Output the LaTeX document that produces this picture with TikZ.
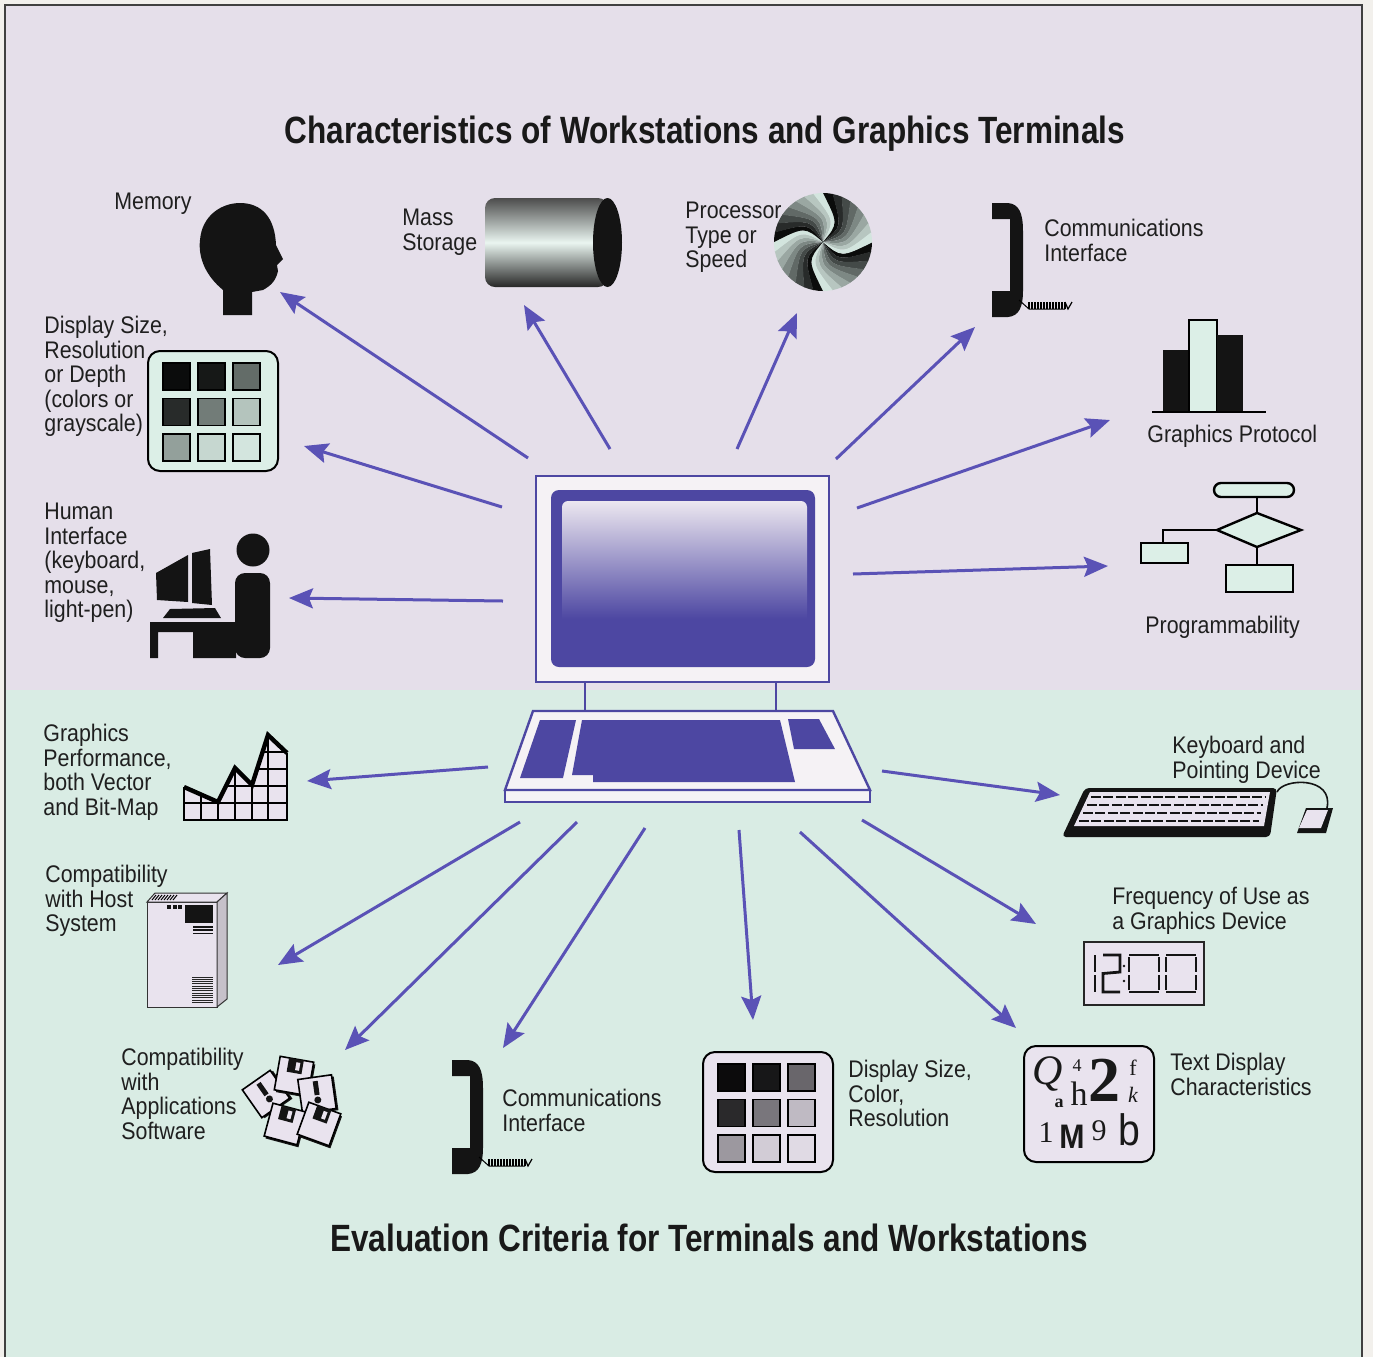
\documentclass[tikz,border=0pt]{standalone}
\usepackage{fontspec}
\setmainfont{Liberation Sans}[FakeStretch=0.89]
\newfontfamily\headfont{Liberation Sans}[FakeStretch=0.83]
\newfontfamily\serifglyphs{Liberation Serif}
\usetikzlibrary{arrows.meta}

\definecolor{paper}{HTML}{F2F0EC}
\definecolor{lilac}{HTML}{E5DFEA}
\definecolor{mint}{HTML}{D9ECE4}
\definecolor{iconmint}{HTML}{DCEFE7}
\definecolor{iconlilac}{HTML}{E9E3EE}
\definecolor{arrowblue}{HTML}{5A52B6}
\definecolor{crtblue}{HTML}{4D47A2}
\definecolor{crtwhite}{HTML}{F5F2F5}
\definecolor{screentop}{HTML}{ECE7F0}

% glow of the screen, dark at the bottom
\pgfdeclareverticalshading{crtglow}{100bp}{color(0bp)=(crtblue); color(38bp)=(crtblue); color(75bp)=(screentop); color(100bp)=(screentop)}

% 3x3 grey swatches in a rounded frame
\newcommand{\pixelpanel}[3]{%
  \begin{scope}[shift={(#1,#2)}]
    \filldraw[fill=#3, draw=black, line width=1pt, rounded corners=6pt] (0,0) rectangle (130,120);
    \foreach \c/\r/\s in {0/0/95,1/0/90,2/0/55,0/1/82,1/1/48,2/1/18,0/2/33,1/2/10,2/2/4}
      \filldraw[draw=black, line width=0.6pt, fill=black!\s!#3] (15+35*\c,12+35.5*\r) rectangle ++(27,27);
  \end{scope}}

% telephone handset with its coiled cord
\newcommand{\handset}[2]{%
  \begin{scope}[shift={(#1,#2)}]
    \fill[black!92] (0,0) -- (16,0) .. controls (27,1) and (31,10) .. (31,28) -- (31,88)
      .. controls (31,104) and (27,113) .. (16,114) -- (0,114) -- (0,88) -- (18,88) -- (18,16) -- (0,16) -- cycle;
    \draw[line width=0.5pt] (27,97) -- (37,106) -- (73,106);
    \foreach \k in {0,...,12}
      \draw[line width=0.6pt] (37+3*\k,99) -- (37+3*\k,106);
    \draw[line width=0.6pt] (73,99) -- (76,106) -- (80,99);
  \end{scope}}

% floppy disk, kind 0 = shutter side, kind 1 = label side
\newcommand{\floppy}[4]{%
  \begin{scope}[shift={(#1,#2)}, rotate=#3]
    \fill[black!92] (-15,-15) rectangle (19,19);
    \filldraw[fill=iconlilac, draw=black, line width=0.8pt] (-17,-17) rectangle (17,17);
    \ifnum#4=0
      \fill[black!92] (-8,-17) rectangle (7,-3);
      \fill[iconlilac] (0,-14) rectangle (4,-6);
    \else
      \fill[black!92] (-2.5,-13) rectangle (2.5,1);
      \fill[black!92] (0,6) circle[radius=3.5];
    \fi
  \end{scope}}

\begin{document}
\begin{tikzpicture}[x=0.5pt, y=-0.5pt,
  lbl/.style={font=\fontsize{12}{12.2}\selectfont, align=left, anchor=north west, inner sep=0pt, text=black!88},
  headline/.style={font=\headfont\bfseries\fontsize{19}{19}\selectfont, anchor=base, inner sep=0pt, text=black!90},
  pointer/.style={draw=arrowblue, line width=1.5pt, -{Stealth[length=12pt, width=10pt, inset=2pt]}},
  crt/.style={draw=crtblue, line width=1.2pt, fill=crtwhite},
  glyph/.style={inner sep=0pt, text=black!90}]

\def \xleft   {5}
\def \xright  {1362}
\def \ytop    {5}
\def \ysplit  {690}
\def \ybot    {1357}

\useasboundingbox (0,0) rectangle (1373,1357);

% paper and the two bands
\fill[paper] (0,0) rectangle (1373,1357);
\fill[lilac] (\xleft,\ytop) rectangle (\xright,\ysplit);
\fill[mint] (\xleft,\ysplit) rectangle (\xright,\ybot);
\draw[black!75, line width=0.8pt] (\xleft,\ybot) -- (\xleft,\ytop) -- (\xright,\ytop) -- (\xright,\ybot);

% headlines
\node[headline] (toptitle) at (705,143) {Characteristics of Workstations and Graphics Terminals};
\node[headline] (bottitle) at (709,1251) {Evaluation Criteria for Terminals and Workstations};

% terminal: monitor
\filldraw[crt] (536,476) rectangle (829,682);
\fill[crtblue, rounded corners=4pt] (551,490) rectangle (815,667);
\shade[shading=crtglow, rounded corners=3pt] (562,501) rectangle (807,660);
\draw[crtblue, line width=1.2pt] (585,682) -- (585,711) (776,682) -- (776,711);
% terminal: keyboard
\filldraw[crt] (505,790) rectangle (870,802);
\filldraw[crt] (533,711) -- (833,711) -- (870,790) -- (505,790) -- cycle;
\fill[crtblue] (540,720) -- (576,720) -- (563,778) -- (520,778) -- cycle;
\fill[crtblue] (582,720) -- (780,720) -- (795,782) -- (593,782) -- (593,775) -- (572,775) -- cycle;
\fill[crtblue] (788,719) -- (819,719) -- (835,749) -- (794,749) -- cycle;

% memory: head
\fill[black!92] (223,315) -- (223,290) .. controls (206,276) and (198,258) .. (200,240)
  .. controls (202,215) and (222,203) .. (240,203) .. controls (262,203) and (275,218) .. (276,245)
  -- (283,259) -- (277,265) -- (278,271) .. controls (276,280) and (272,285) .. (263,290)
  -- (252,292) -- (252,315) -- cycle;
\node[lbl] (memorylbl) at (114,193) {Memory};

% mass storage: cylinder
\shade[top color=black!70, bottom color=black!85, middle color=iconmint!60!white, rounded corners=5pt] (485,198) rectangle (608,287);
\fill[black!92] (607.5,242.5) ellipse [x radius=14.5, y radius=44.5];
\node[lbl] (storagelbl) at (402,209) {Mass\\Storage};

% processor: pinwheel
\begin{scope}[shift={(823,242)}]
  \foreach \i [evaluate=\i as \a using \i*11.25, evaluate=\i as \v using {95-mod(\i,8)*13}] in {0,...,31}
    \fill[black!\v!iconmint] (0,0) .. controls ({\a+40}:24) .. (\a:49)
      arc[start angle=\a, end angle={\a+11.8}, radius=49] .. controls ({\a+51.25}:24) .. (0,0) -- cycle;
\end{scope}
\node[lbl] (cpulbl) at (685,202) {Processor\\Type or\\Speed};

% communications (top)
\handset{992}{203}
\node[lbl] (commtoplbl) at (1044,219) {Communications\\Interface};

% graphics protocol: bars
\fill[black!92] (1163,350) rectangle (1189,412);
\filldraw[fill=iconmint, draw=black, line width=0.8pt] (1189,320) rectangle (1217,412);
\fill[black!92] (1217,335) rectangle (1243,412);
\draw[line width=0.8pt] (1152,412) -- (1266,412);
\node[lbl] (protocollbl) at (1147,425) {Graphics Protocol};

% programmability: flow chart
\begin{scope}[line width=1.2pt]
  \draw (1257,497) -- (1257,513) (1217,530) -- (1163,530) -- (1163,543) (1257,547) -- (1257,565);
  \filldraw[fill=iconmint, rounded corners=3.5pt] (1214,483) rectangle (1294,497);
  \filldraw[fill=iconmint] (1257,513) -- (1301,530) -- (1257,547) -- (1217,530) -- cycle;
  \filldraw[fill=iconmint] (1141,543) rectangle (1188,563);
  \filldraw[fill=iconmint] (1226,565) rectangle (1293,592);
\end{scope}
\node[lbl] (programlbl) at (1145,616) {Programmability};

% display size (top)
\pixelpanel{148}{351}{iconmint}
\node[lbl] (depthtoplbl) at (44,316) {Display Size,\\Resolution\\or Depth\\(colors or\\grayscale)};

% human interface: person at a desk
\fill[black!92] (253,550) circle[radius=16.5];
\fill[black!92, rounded corners=5pt] (235,658) -- (235,573) -- (270,573) -- (270,658) -- cycle;
\fill[black!92] (150,622) -- (236,622) -- (236,658) -- (193,658) -- (193,632) -- (158,632) -- (158,658) -- (150,658) -- cycle;
\fill[black!92] (156,573) -- (188,555) -- (188,602) -- (157,600) -- cycle;
\fill[black!92] (192,553) -- (210,549) -- (212,605) -- (192,603) -- cycle;
\fill[black!92] (163,618) -- (170,609) -- (215,608) -- (221,618) -- cycle;
\node[lbl] (humanlbl) at (44,503) {Human\\Interface\\(keyboard,\\mouse,\\light-pen)};

% graphics performance: chart
\fill[iconlilac] (184,787) -- (218,802) -- (235,768) -- (252,785) -- (268,735) -- (287,753) -- (287,820) -- (184,820) -- cycle;
\begin{scope}
  \clip (184,787) -- (218,802) -- (235,768) -- (252,785) -- (268,735) -- (287,753) -- (287,820) -- (184,820) -- cycle;
  \foreach \gx in {201,218,235,252,268}
    \draw[line width=0.8pt] (\gx,730) -- (\gx,820);
  \foreach \gy in {803,786,769,752}
    \draw[line width=0.8pt] (180,\gy) -- (290,\gy);
\end{scope}
\draw[line width=0.9pt] (184,787) -- (184,820) -- (287,820) -- (287,753);
\draw[line width=2.2pt, line join=miter] (184,787) -- (218,802) -- (235,768) -- (252,785) -- (268,735) -- (287,753);
\node[lbl] (perflbl) at (43,724) {Graphics\\Performance,\\both Vector\\and Bit-Map};

% host system: cabinet
\begin{scope}[line width=0.5pt]
  \filldraw[fill=iconlilac, draw=black!80] (147,902) rectangle (217,1007);
  \filldraw[fill=iconlilac, draw=black!80] (147,902) -- (155,893) -- (227,893) -- (217,902) -- cycle;
  \filldraw[fill=iconlilac!85!black, draw=black!80] (217,902) -- (227,893) -- (227,999) -- (217,1007) -- cycle;
  \foreach \k in {0,...,7}
    \draw (152+3*\k,900) -- (156+3*\k,895);
  \foreach \k in {0,1,2}
    \fill[black!92] (167+5.5*\k,905) rectangle ++(4,4);
  \fill[black!92] (185,905) rectangle (213,923);
  \foreach \k in {0,1,2}
    \fill[black!92] (193,926+3.3*\k) rectangle ++(20,1.6);
  \foreach \k in {0,...,11}
    \draw[black!85] (192,977+2.3*\k) -- (213,977+2.3*\k);
\end{scope}
\node[lbl] (hostlbl) at (45,865) {Compatibility\\with Host\\System};

% applications software: pile of floppies
\floppy{266}{1094}{35}{1}
\floppy{294}{1076}{-10}{0}
\floppy{317}{1094}{8}{1}
\floppy{285}{1124}{-15}{0}
\floppy{319}{1124}{-20}{0}
\node[lbl] (appslbl) at (121,1048) {Compatibility\\with\\Applications\\Software};

% communications (bottom)
\handset{452}{1060}
\node[lbl] (commbotlbl) at (502,1089) {Communications\\Interface};

% display size (bottom)
\pixelpanel{703}{1052}{iconlilac}
\node[lbl] (depthbotlbl) at (848,1060) {Display Size,\\Color,\\Resolution};

% text display: assorted type
\filldraw[fill=iconlilac, draw=black, line width=1pt, rounded corners=6pt] (1024,1046) rectangle (1154,1162);
\node[glyph, font=\serifglyphs\itshape\fontsize{21}{21}\selectfont] (gq) at (1048,1074) {Q};
\node[glyph, font=\serifglyphs\fontsize{9}{9}\selectfont] (gfour) at (1077,1066) {4};
\node[glyph, font=\serifglyphs\fontsize{17}{17}\selectfont] (gh) at (1079,1094) {h};
\node[glyph, font=\serifglyphs\bfseries\fontsize{9}{9}\selectfont] (ga) at (1059,1103) {a};
\node[glyph, font=\serifglyphs\bfseries\fontsize{32}{32}\selectfont] (gtwo) at (1104,1080) {2};
\node[glyph, font=\serifglyphs\fontsize{11}{11}\selectfont] (gf) at (1133,1068) {f};
\node[glyph, font=\serifglyphs\itshape\fontsize{11}{11}\selectfont] (gk) at (1133,1095) {k};
\node[glyph, font=\serifglyphs\fontsize{15}{15}\selectfont] (gone) at (1046,1133) {1};
\node[glyph, font=\bfseries\fontsize{17}{17}\selectfont] (gm) at (1072,1137) {M};
\node[glyph, font=\serifglyphs\fontsize{15}{15}\selectfont] (gnine) at (1099,1131) {9};
\node[glyph, font=\fontsize{22}{22}\selectfont] (gb) at (1129,1130) {b};
\node[lbl] (textlbl) at (1170,1053) {Text Display\\Characteristics};

% keyboard and mouse
\fill[black!92, rounded corners=2pt] (1085,788) -- (1277,788) -- (1270,837) -- (1062,837) -- cycle;
\fill[iconlilac] (1090,792) -- (1270,792) -- (1264,826) -- (1074,826) -- cycle;
\foreach \ky/\kl/\kr in {797/1091/1265,805/1087/1263,813/1083/1261,821/1079/1259}
  \draw[black!92, line width=1.3pt, dash pattern=on 5pt off 1.2pt] (\kl,\ky) -- (\kr,\ky);
\draw[black!92, line width=0.8pt] (1277,792) .. controls (1283,778) and (1334,776) .. (1327,808);
\fill[black!92] (1306,808) -- (1333,808) -- (1326,833) -- (1297,833) -- cycle;
\fill[iconlilac] (1307,810) -- (1328,810) -- (1321,828) -- (1299,828) -- cycle;
\node[lbl] (keyslbl) at (1172,736) {Keyboard and\\Pointing Device};

% frequency of use: digital clock
\filldraw[fill=iconlilac, draw=black!85, line width=0.6pt] (1084,942) rectangle (1204,1005);
\begin{scope}[line width=1.4pt, black!92]
  \draw (1095,955) -- (1095,972) (1095,975) -- (1095,992);
  \draw (1103,955) -- (1120,955) -- (1120,972) -- (1103,973.5) -- (1103,992) -- (1120,992);
  \fill (1124,966) circle[radius=1.3] (1124,981) circle[radius=1.3];
  \foreach \dx in {1129,1166}
    \draw (\dx,955) -- (\dx+30,955) (\dx,957) -- (\dx,972) (\dx,975) -- (\dx,990)
          (\dx+30,957) -- (\dx+30,972) (\dx+30,975) -- (\dx+30,990) (\dx,992) -- (\dx+30,992);
\end{scope}
\node[lbl] (freqlbl) at (1112,887) {Frequency of Use as\\a Graphics Device};

% arrows out of the terminal
\foreach \nm/\sx/\sy/\tx/\ty in {
    memory/528/458/280/292, storage/610/449/524/305, cpu/737/449/797/313,
    commtop/836/459/975/327, protocol/857/508/1110/420, program/853/574/1108/566,
    depthtop/502/507/304/446, human/503/601/289/598, perf/488/767/307/781,
    keys/882/771/1060/795, host/520/822/278/965, apps/577/822/345/1050,
    commbot/645/828/503/1048, depthbot/739/830/753/1020, textdisp/800/832/1016/1028,
    freq/862/820/1036/924} {
  \coordinate (\nm-from) at (\sx,\sy);
  \coordinate (\nm-to) at (\tx,\ty);
  \draw[pointer] (\nm-from) -- (\nm-to);
}

\end{tikzpicture}
\end{document}
